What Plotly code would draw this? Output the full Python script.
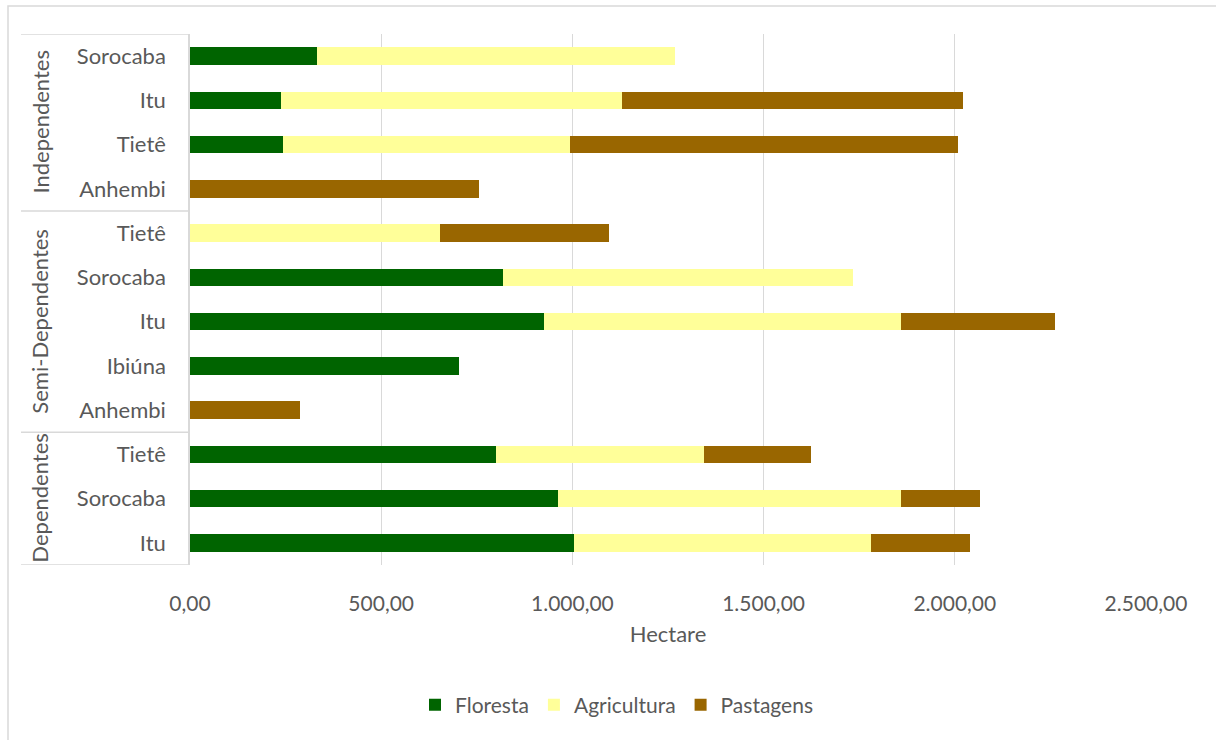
import plotly.graph_objects as go

groups = ["Dependentes"] * 3 + ["Semi-Dependentes"] * 5 + ["Independentes"] * 4
subs = ["Itu", "Sorocaba", "Tietê",
        "Anhembi", "Ibiúna", "Itu", "Sorocaba", "Tietê",
        "Anhembi", "Tietê", "Itu", "Sorocaba"]
floresta = [1003, 963, 801, 0, 703, 927, 819, 0, 0, 244, 239, 331]
agricultura = [778, 895, 543, 0, 0, 931, 914, 655, 0, 749, 891, 937]
pastagens = [258, 208, 279, 287, 0, 405, 0, 442, 757, 1015, 891, 0]
series_names = ["Floresta", "Agricultura", "Pastagens"]
colors = ["#006400", "#FFFF99", "#996600"]
x_ticks = [0, 500, 1000, 1500, 2000, 2500]

idx = list(range(len(subs)))
FONT = "Lato"
GREY = "#595959"
LINE = "#d9d9d9"

fig = go.Figure()
for name, vals, col in zip(series_names, [floresta, agricultura, pastagens], colors):
    fig.add_trace(go.Bar(
        y=idx, x=vals, name=name, orientation="h",
        marker=dict(color=col, line=dict(width=0)),
        width=0.4,
    ))

W, H = 1216, 740
ml, mr, mt, mb = 190, 70, 34, 175
pw, ph = W - ml - mr, H - mt - mb

def px_x(p):
    return (p - ml) / pw

def px_y(p):
    return (H - mb - p) / ph

shapes = []
# outer chart border (cropped on right/bottom)
shapes.append(dict(type="rect", xref="paper", yref="paper",
                   x0=px_x(8), x1=px_x(1240), y0=px_y(760), y1=px_y(6),
                   line=dict(color=LINE, width=1.5), fillcolor="rgba(0,0,0,0)", layer="below"))
# group dividers
uniq = []
for g in groups:
    if g not in uniq:
        uniq.append(g)
bounds = [-0.5]
for g in uniq:
    bounds.append(max(i for i, gg in enumerate(groups) if gg == g) + 0.5)
for b in bounds:
    shapes.append(dict(type="line", xref="paper", yref="y",
                       x0=px_x(21), x1=0, y0=b, y1=b,
                       line=dict(color=LINE, width=1.5)))

annotations = []
for g in uniq:
    ids = [i for i, gg in enumerate(groups) if gg == g]
    annotations.append(dict(x=px_x(40), y=(min(ids) + max(ids)) / 2, xref="paper", yref="y",
                            text=g, textangle=-90, showarrow=False,
                            font=dict(family=FONT, size=22, color=GREY),
                            xanchor="center", yanchor="middle"))

fig.update_layout(
    width=W, height=H,
    margin=dict(l=ml, r=mr, t=mt, b=mb, autoexpand=False),
    barmode="stack",
    plot_bgcolor="white", paper_bgcolor="white",
    separators=",.",
    font=dict(family=FONT, size=21, color=GREY),
    shapes=shapes, annotations=annotations,
    legend=dict(orientation="h", x=px_x(617), y=px_y(705), xanchor="center", yanchor="middle",
                font=dict(family=FONT, size=21, color=GREY), traceorder="normal",
                itemwidth=30),
    showlegend=True,
)
fig.update_xaxes(range=[0, 2500], tickvals=x_ticks, tickformat=",.2f",
                 showgrid=True, gridcolor=LINE, gridwidth=1.3, zeroline=False,
                 showline=False, ticks="", ticklabelstandoff=24,
                 tickfont=dict(family=FONT, size=21, color=GREY),
                 title=dict(text="Hectare", font=dict(family=FONT, size=22, color=GREY), standoff=12),
                 automargin=False)
fig.update_yaxes(range=[-0.5, len(subs) - 0.5], tickvals=idx, ticktext=subs,
                 showgrid=False, zeroline=False, showline=True, linecolor=LINE, linewidth=1.5,
                 ticks="", ticklabelstandoff=18,
                 tickfont=dict(family=FONT, size=22, color=GREY), automargin=False)

fig.write_html("out.html")
